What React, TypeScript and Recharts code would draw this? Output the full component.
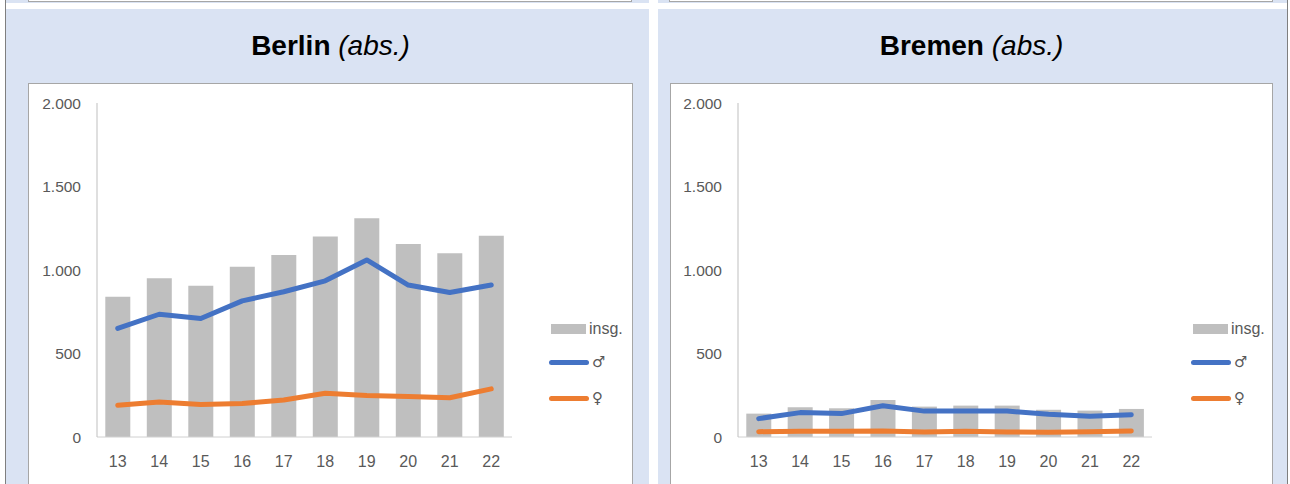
import React from 'react';
import { ComposedChart, Bar, Line, XAxis, YAxis } from 'recharts';

const years = ['13', '14', '15', '16', '17', '18', '19', '20', '21', '22'];
const berlinTotal = [840, 950, 905, 1020, 1090, 1200, 1310, 1155, 1100, 1205];
const berlinMale = [650, 735, 710, 815, 870, 935, 1060, 910, 865, 910];
const berlinFemale = [190, 210, 195, 200, 222, 262, 248, 242, 235, 288];
const bremenTotal = [140, 178, 172, 222, 182, 188, 188, 163, 158, 168];
const bremenMale = [110, 146, 140, 187, 155, 155, 155, 136, 124, 133];
const bremenFemale = [32, 34, 34, 36, 30, 34, 30, 28, 32, 36];
const yTicks = [0, 500, 1000, 1500, 2000];
const seriesNames = ['insg.', '\u2642', '\u2640'];

const FONT = '"Liberation Sans", Arial, sans-serif';
const PANEL_BG = '#dae3f3';
const BORDER = '#a6a6a6';
const TEXT = '#595959';
const BAR = '#bfbfbf';
const BLUE = '#4472c4';
const ORANGE = '#ed7d31';

const build = (t: number[], m: number[], f: number[]) =>
  years.map((y, i) => ({ year: y, total: t[i], male: m[i], female: f[i] }));

const fmt = (v: number) => (v >= 1000 ? `${Math.floor(v / 1000)}.${String(v % 1000).padStart(3, '0')}` : String(v));

const LegendBox = ({ left, top }: { left: number; top: number }) => (
  <div style={{ fontFamily: FONT, fontSize: 16, color: TEXT, position: 'absolute', left, top, width: 90, height: 90 }}>
    <div style={{ position: 'absolute', left: 2, top: 0, width: 35, height: 10, background: BAR }} />
    <div style={{ position: 'absolute', left: 40, top: -5, lineHeight: '20px' }}>{seriesNames[0]}</div>
    <div style={{ position: 'absolute', left: 0, top: 36, width: 40, height: 5, borderRadius: 3, background: BLUE }} />
    <div style={{ position: 'absolute', left: 43, top: 28, lineHeight: '20px', fontFamily: '"DejaVu Sans", sans-serif', fontSize: 15 }}>{seriesNames[1]}</div>
    <div style={{ position: 'absolute', left: 0, top: 72, width: 40, height: 5, borderRadius: 3, background: ORANGE }} />
    <div style={{ position: 'absolute', left: 43, top: 64, lineHeight: '20px', fontFamily: '"DejaVu Sans", sans-serif', fontSize: 15 }}>{seriesNames[2]}</div>
  </div>
);

function Panel({ left, width, innerLeft, innerWidth, title, data, yAxisWidth }: { left: number; width: number; innerLeft: number; innerWidth: number; title: string; data: any[]; yAxisWidth: number }) {
  return (
    <>
      <div style={{ position: 'absolute', left, top: 9, width, height: 480, background: PANEL_BG }} />
      <div
        style={{
          position: 'absolute',
          left: innerLeft,
          top: 30,
          width: innerWidth,
          textAlign: 'center',
          fontFamily: FONT,
          fontSize: 28,
          lineHeight: '32px',
          color: '#000',
        }}
      >
        <span style={{ fontWeight: 'bold' }}>{title}</span> <span style={{ fontStyle: 'italic' }}>(abs.)</span>
      </div>
      <div
        style={{
          position: 'absolute',
          left: innerLeft,
          top: 83,
          width: innerWidth,
          height: 420,
          background: '#fff',
          border: `1px solid ${BORDER}`,
          boxSizing: 'border-box',
        }}
      />
      <div style={{ position: 'absolute', left: innerLeft + 1, top: 84 }}>
        <ComposedChart
          width={innerWidth - 2}
          height={400}
          data={data}
          margin={{ top: 19, right: 120, bottom: 17, left: 0 }}
          barCategoryGap="20%"
        >
          <XAxis
            dataKey="year"
            axisLine={{ stroke: '#d0d0d0', strokeWidth: 1 }}
            tickLine={false}
            tickSize={0}
            tickMargin={19}
            height={30}
            interval={0}
            tick={{ fill: TEXT, fontSize: 16, fontFamily: FONT }}
          />
          <YAxis
            width={yAxisWidth}
            domain={[0, 2000]}
            ticks={yTicks}
            interval={0}
            tickFormatter={fmt}
            axisLine={{ stroke: '#bfbfbf', strokeWidth: 1 }}
            tickLine={false}
            tickSize={0}
            tickMargin={16}
            tick={{ fill: TEXT, fontSize: 15.5, fontFamily: FONT }}
          />
          <Bar dataKey="total" name={seriesNames[0]} fill={BAR} isAnimationActive={false} />
          <Line dataKey="male" name={seriesNames[1]} stroke={BLUE} strokeWidth={5} strokeLinecap="round" strokeLinejoin="round" dot={false} activeDot={false} isAnimationActive={false} />
          <Line dataKey="female" name={seriesNames[2]} stroke={ORANGE} strokeWidth={5} strokeLinecap="round" strokeLinejoin="round" dot={false} activeDot={false} isAnimationActive={false} />
        </ComposedChart>
      </div>
      <LegendBox left={innerLeft + 521} top={324} />
    </>
  );
}

export default function App() {
  const berlin = build(berlinTotal, berlinMale, berlinFemale);
  const bremen = build(bremenTotal, bremenMale, bremenFemale);
  return (
    <div style={{ position: 'absolute', left: 0, top: 0, width: 1290, height: 484, background: '#fff', overflow: 'hidden' }}>
      <div style={{ position: 'absolute', left: 6, top: -20, width: 643, height: 23, background: PANEL_BG }} />
      <div style={{ position: 'absolute', left: 28, top: -20, width: 604, height: 22, background: '#fff', border: `1px solid ${BORDER}`, boxSizing: 'border-box' }} />
      <div style={{ position: 'absolute', left: 658, top: -20, width: 629, height: 23, background: PANEL_BG }} />
      <div style={{ position: 'absolute', left: 669, top: -20, width: 604, height: 22, background: '#fff', border: `1px solid ${BORDER}`, boxSizing: 'border-box' }} />
      <Panel left={6} width={643} innerLeft={28} innerWidth={605} title="Berlin" data={berlin} yAxisWidth={68} />
      <Panel left={658} width={629} innerLeft={670} innerWidth={603} title="Bremen" data={bremen} yAxisWidth={67} />
      <div style={{ position: 'absolute', left: 5, top: 0, width: 1, height: 484, background: '#7f7f7f' }} />
      <div style={{ position: 'absolute', left: 1287, top: 0, width: 1, height: 484, background: '#7f7f7f' }} />
    </div>
  );
}
